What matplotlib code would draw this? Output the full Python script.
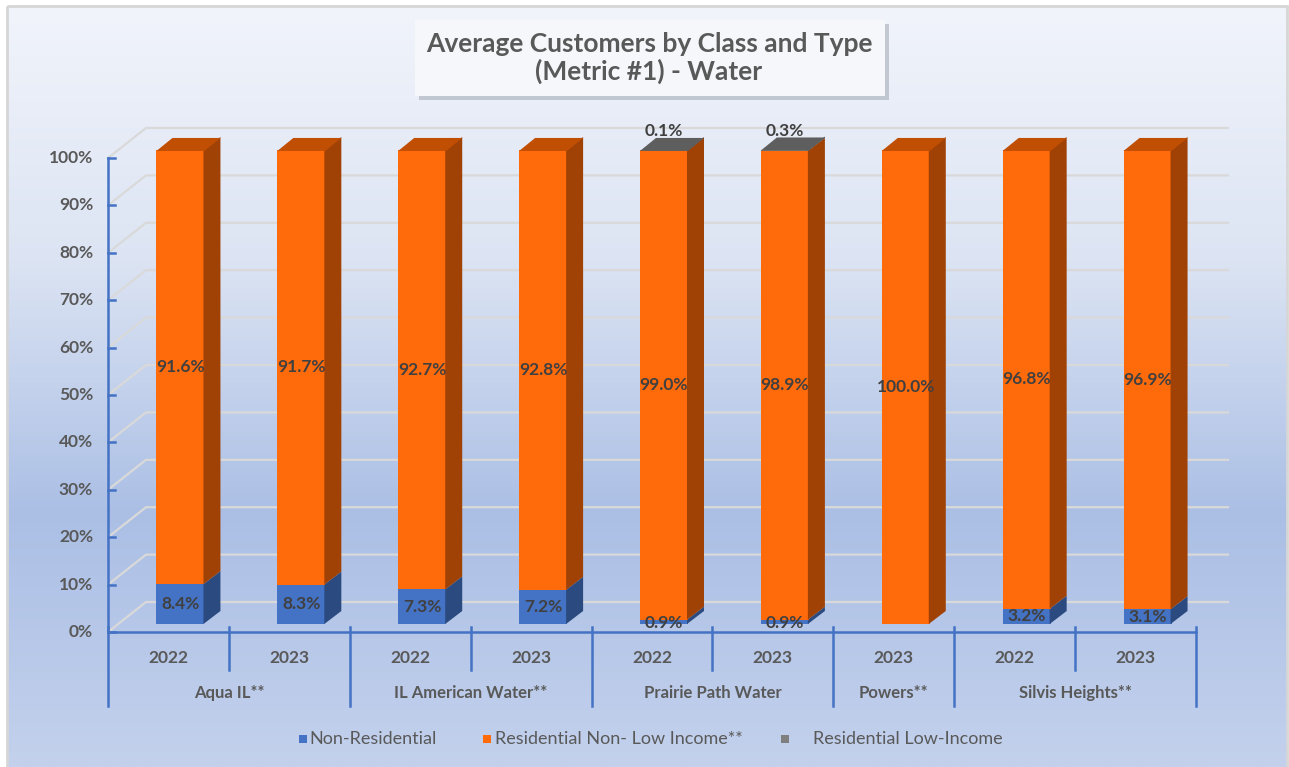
import numpy as np
import matplotlib.pyplot as plt
from matplotlib.patches import Polygon, Rectangle
from matplotlib.colors import LinearSegmentedColormap

plt.rcParams['font.family'] = ['Lato', 'DejaVu Sans']

# ---- data ----
groups = ["Aqua IL**", "IL American Water**", "Prairie Path Water", "Powers**", "Silvis Heights**"]
group_years = [["2022", "2023"], ["2022", "2023"], ["2022", "2023"], ["2023"], ["2022", "2023"]]
non_residential = [8.4, 8.3, 7.3, 7.2, 0.9, 0.9, 0.0, 3.2, 3.1]
res_non_low = [91.6, 91.7, 92.7, 92.8, 99.0, 98.9, 100.0, 96.8, 96.9]
res_low = [0.0, 0.0, 0.0, 0.0, 0.1, 0.3, 0.0, 0.0, 0.0]
series_names = ["Non-Residential", "Residential Non- Low Income**", "Residential Low-Income"]

front_cols = ["#4472C4", "#FF6A0B", "#7F7F7F"]
side_cols = ["#2B4A80", "#A04105", "#4F4F4F"]
top_cols = ["#3A63AE", "#C04F04", "#5E5E5E"]
txt = "#595959"
lbl = "#404040"

W, H = 1289, 767
fig = plt.figure(figsize=(W / 100, H / 100), dpi=100)

# background + frame
bg = fig.add_axes([0, 0, 1, 1])
bg.set_xlim(0, W)
bg.set_ylim(H, 0)
bg.axis("off")
grad = np.linspace(0, 1, 256).reshape(-1, 1)
cmap = LinearSegmentedColormap.from_list("bgc", ["#F1F4FB", "#DCE4F3", "#ABBFE5", "#C3D1EC"])
bg.imshow(grad, cmap=cmap, aspect="auto", extent=[8, 1287, 767, 6], zorder=0)
bg.add_patch(Rectangle((7, 5.5), 1280, 770, fill=False, ec="#D6D6D6", lw=2, zorder=1))

# title box with shadow
bg.add_patch(Rectangle((419, 24), 470, 76, fc="#9AA1AA", ec="none", alpha=0.5, zorder=2))
bg.add_patch(Rectangle((415, 20), 470, 76, fc="#F5F7FB", ec="none", zorder=3))
bg.text(649, 58, "Average Customers by Class and Type\n(Metric #1) - Water", ha="center", va="center",
        fontsize=19, fontweight="bold", color=txt, linespacing=1.1, zorder=4)

# plot axes: x in category slots, y in percent
x0, x1, y0, y1 = 108, 1196, 632, 158
ax = fig.add_axes([x0 / W, (H - y0) / H, (x1 - x0) / W, (y0 - y1) / H])
ax.set_xlim(-0.5, 8.5)
ax.set_ylim(0, 100)
ax.axis("off")
ax.patch.set_alpha(0)

pxx = (x1 - x0) / 9.0
pxy = (y0 - y1) / 100.0
wall_dx, wall_dy = 38 / pxx, 30 / pxy
sx, sy = 12 / pxx, 8 / pxy
bw = 48 / pxx
ddx, ddy = 16 / pxx, 13 / pxy
ov = 1 / pxx  # small overlap to hide seams

# gridlines (back wall + floor side)
for v in range(0, 101, 10):
    ax.plot([-0.5, -0.5 + wall_dx, 8.5 + wall_dx - 0.05], [v, v + wall_dy, v + wall_dy],
            color="#D9D9D9", lw=1.6, clip_on=False, zorder=1)

# y axis
ax.plot([-0.5, -0.5], [0, 100], color="#4472C4", lw=1.8, clip_on=False, zorder=6)
for v in range(0, 101, 10):
    ax.plot([-0.5, -0.5 + 7 / pxx], [v, v], color="#4472C4", lw=1.8, clip_on=False, zorder=6)
    ax.text(-0.5 - 15 / pxx, v, f"{v}%", ha="right", va="center", fontsize=12.5,
            fontweight="bold", color=txt, clip_on=False)

# x axis with two-level labels
ax.plot([-0.5, 8.5], [0, 0], color="#4472C4", lw=1.8, clip_on=False, zorder=6)
pos = 0
for g, yrs in zip(groups, group_years):
    n = len(yrs)
    for k, yr in enumerate(yrs):
        ax.text(pos + k, -26 / pxy, yr, ha="center", va="center", fontsize=12.5,
                fontweight="bold", color=txt, clip_on=False)
        if k > 0:
            ax.plot([pos + k - 0.5] * 2, [1, -38 / pxy], color="#4472C4", lw=1.8, clip_on=False)
    ax.text(pos + (n - 1) / 2, -61 / pxy, g, ha="center", va="center", fontsize=12,
            fontweight="bold", color=txt, clip_on=False)
    ax.plot([pos - 0.5] * 2, [1, -74 / pxy], color="#4472C4", lw=1.8, clip_on=False)
    pos += n
ax.plot([pos - 0.5] * 2, [1, -74 / pxy], color="#4472C4", lw=1.8, clip_on=False)

# bars
series = [non_residential, res_non_low, res_low]
xs = np.arange(len(non_residential))
bottom = np.zeros(len(xs))
for s, vals in enumerate(series):
    vals = np.array(vals)
    ax.bar(xs + sx, vals, width=bw, bottom=bottom + sy, color=front_cols[s],
           edgecolor="none", zorder=3, clip_on=False)
    for i, v in enumerate(vals):
        if v <= 0:
            continue
        xr = xs[i] + sx + bw / 2 - ov
        b, t = bottom[i] + sy, bottom[i] + v + sy
        ax.add_patch(Polygon([[xr, b], [xr + ddx + ov, b + ddy], [xr + ddx + ov, t + ddy], [xr, t]],
                             closed=True, fc=side_cols[s], ec="none", zorder=3, clip_on=False))
    bottom = bottom + vals

# top faces coloured by the topmost non-zero series
for i in xs:
    top_s = max(s for s in range(3) if series[s][i] > 0)
    xl = xs[i] + sx - bw / 2
    t = bottom[i] + sy - 0.2
    ax.add_patch(Polygon([[xl, t], [xl + bw, t], [xl + bw + ddx, t + ddy], [xl + ddx, t + ddy]],
                         closed=True, fc=top_cols[top_s], ec="none", zorder=4, clip_on=False))

# data labels
for i in xs:
    c = xs[i] + sx
    nr, rn, rl = non_residential[i], res_non_low[i], res_low[i]
    if nr > 0:
        yb = sy + nr / 2 if nr > 2 else sy + 0.3
        ax.text(c, yb, f"{nr:.1f}%", ha="center", va="center", fontsize=12.5,
                fontweight="bold", color=lbl, zorder=7)
    ax.text(c, sy + nr + rn / 2, f"{rn:.1f}%", ha="center", va="center", fontsize=12.5,
            fontweight="bold", color=lbl, zorder=7)
    if rl > 0:
        ax.text(c, 100 + sy + 4.0, f"{rl:.1f}%", ha="center", va="center", fontsize=12.5,
                fontweight="bold", color=lbl, zorder=7, clip_on=False)

# legend
leg_x = [303, 487, 785]
txt_x = [309, 495, 813]
for k in range(3):
    bg.add_patch(Rectangle((leg_x[k] - 4, 735), 8, 8, fc=front_cols[k], ec="none", zorder=5))
    bg.text(txt_x[k], 739, series_names[k], ha="left", va="center", fontsize=13,
            color=txt, zorder=5)

fig.savefig("out.png", dpi=100)
